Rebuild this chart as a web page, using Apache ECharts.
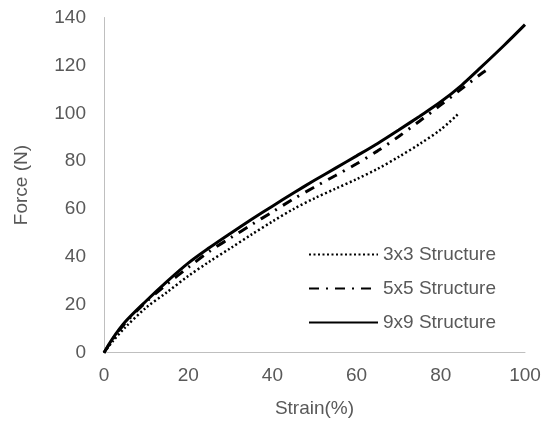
<!DOCTYPE html>
<html>
<head>
<meta charset="utf-8">
<script src="https://cdn.jsdelivr.net/npm/echarts@6/dist/echarts.min.js"></script>
<style>html,body{margin:0;padding:0;background:#fff}#c{width:544px;height:421px}</style>
</head>
<body>
<div id="c"></div>
<script>
var seriesNames = ['3x3 Structure', '5x5 Structure', '9x9 Structure'];
var xTicks = [0, 20, 40, 60, 80, 100];
var yTicks = [0, 20, 40, 60, 80, 100, 120, 140];

var strain3 = [0, 2, 5, 10, 15, 20, 25, 30, 35, 40, 45, 50, 55, 60, 65, 70, 75, 80, 84];
var force3  = [0, 4.6, 10.5, 18.8, 25.3, 32, 38, 43.6, 49.3, 54.8, 60, 64.5, 68.5, 72.5, 76.8, 81.8, 87.2, 93.2, 99.5];

var strain5 = [0, 2, 5, 10, 15, 20, 25, 30, 35, 40, 45, 50, 55, 60, 65, 70, 75, 80, 85, 90, 92];
var force5  = [0, 5.5, 12.3, 21.2, 28.7, 35.6, 42.3, 47.9, 53.4, 58.8, 64.2, 69.2, 74, 78.9, 84.3, 90.3, 96.8, 103.5, 110.3, 117, 119.2];

var strain9 = [0, 2, 5, 10, 15, 20, 25, 30, 35, 40, 45, 50, 55, 60, 65, 70, 75, 80, 85, 89, 95, 100];
var force9  = [0, 5.8, 12.8, 21.6, 29.8, 37.4, 43.8, 49.8, 55.6, 61.2, 66.7, 72, 77.1, 82.2, 87.4, 93, 98.8, 104.8, 111.8, 118.3, 128.3, 137];

function pairs(xs, ys) { return xs.map(function (x, i) { return [x, ys[i]]; }); }

var font = 'Liberation Sans, Arial, sans-serif';
var txt = '#595959';
var chart = echarts.init(document.getElementById('c'), null, {renderer: 'canvas'});
chart.setOption({
  animation: false,
  grid: {left: 104, right: 19, top: 17.5, bottom: 68.3, containLabel: false, outerBoundsMode: 'none'},
  legend: {
    orient: 'vertical', left: 303, top: 240,
    itemWidth: 69, itemHeight: 14, itemGap: 15,
    itemStyle: {opacity: 0},
    textStyle: {color: txt, fontSize: 19, fontFamily: font},
    data: seriesNames
  },
  xAxis: {
    type: 'value', min: xTicks[0], max: xTicks[xTicks.length - 1], interval: 20,
    name: 'Strain(%)', nameLocation: 'middle', nameGap: 47,
    nameTextStyle: {color: txt, fontSize: 19, fontFamily: font},
    axisLine: {show: true, lineStyle: {color: '#bfbfbf', width: 1}},
    axisTick: {show: false}, splitLine: {show: false},
    axisLabel: {color: txt, fontSize: 19, fontFamily: font, margin: 14}
  },
  yAxis: {
    type: 'value', min: yTicks[0], max: yTicks[yTicks.length - 1], interval: 20,
    name: 'Force (N)', nameLocation: 'middle', nameGap: 73,
    nameTextStyle: {color: txt, fontSize: 19, fontFamily: font},
    axisLine: {show: true, lineStyle: {color: '#bfbfbf', width: 1}},
    axisTick: {show: false}, splitLine: {show: false},
    axisLabel: {color: txt, fontSize: 19, fontFamily: font, margin: 18}
  },
  series: [
    {name: seriesNames[0], type: 'line', smooth: 0.3, symbol: 'none', data: pairs(strain3, force3),
     lineStyle: {color: '#000', width: 2.5, type: [2, 2.5], cap: 'butt'}, itemStyle: {color: '#000'}},
    {name: seriesNames[1], type: 'line', smooth: 0.3, symbol: 'none', data: pairs(strain5, force5),
     lineStyle: {color: '#000', width: 3, type: [10, 7, 2, 7], cap: 'butt'}, itemStyle: {color: '#000'}},
    {name: seriesNames[2], type: 'line', smooth: 0.3, symbol: 'none', data: pairs(strain9, force9),
     lineStyle: {color: '#000', width: 3}, itemStyle: {color: '#000'}}
  ]
});
</script>
</body>
</html>
